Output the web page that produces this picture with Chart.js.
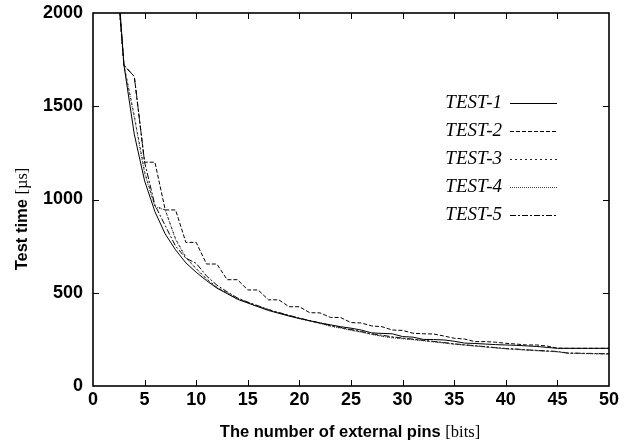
<!DOCTYPE html>
<html>
<head>
<meta charset="utf-8">
<script src="https://cdn.jsdelivr.net/npm/chart.js@4"></script>
<style>
html,body{margin:0;padding:0;background:#fff;}
#wrap{width:634px;height:447px;}
</style>
</head>
<body>
<div id="wrap"><canvas id="c" width="634" height="447"></canvas></div>
<script>
const pins = [2,3,4,5,6,7,8,9,10,11,12,13,14,15,16,17,18,19,20,21,22,23,24,25,26,27,28,29,30,31,32,33,34,35,36,37,38,39,40,41,42,43,44,45,46,47,48,49,50];
const test1 = [2500,1720,1350,1100,935,815,730,660,610,565,525,495,465,445,425,405,390,375,362,350,338,328,318,310,300,285,282,280,265,262,250,249,247,240,230,228,225,222,220,218,215,212,207,202,202,202,202,202,202];
const test2 = [2400,1720,1660,1200,1200,944,944,770,770,654,654,570,570,515,515,462,462,425,425,393,392,368,367,340,338,322,318,300,298,283,280,279,268,256,252,238,238,235,229,225,220,220,214,203,202,202,202,202,202];
const test3 = [2450,1720,1450,1150,965,944,790,690,630,575,530,500,470,448,428,410,393,378,363,350,337,322,312,300,290,278,268,260,255,250,244,238,232,225,220,215,210,205,200,197,193,190,187,184,176,175,174,173,172];
const test4 = [2450,1720,1440,1140,960,944,785,688,628,573,528,498,468,446,426,408,391,376,361,348,335,320,310,298,288,276,266,258,253,248,242,236,230,224,219,214,209,204,199,196,192,189,186,183,175,174,173,172,171];
const test5 = [2400,1720,1660,1200,970,860,750,685,658,590,541,505,472,450,430,410,394,379,364,351,338,325,314,303,292,280,272,264,257,251,245,239,233,226,221,216,211,206,201,198,194,191,188,185,177,176,175,174,173];
const seriesNames = ['TEST-1','TEST-2','TEST-3','TEST-4','TEST-5'];
const xTicks = [0,5,10,15,20,25,30,35,40,45,50];
const yTicks = [0,500,1000,1500,2000];

const styles = [
  {dash: [], color: '#000', width: 1},
  {dash: [4,2], color: '#000', width: 1},
  {dash: [2,3], color: '#222', width: 1},
  {dash: [1,1], color: '#444', width: 1},
  {dash: [6,2,2,2], color: '#000', width: 1}
];
const allData = [test1,test2,test3,test4,test5];

const datasets = allData.map((arr,i)=>({
  label: seriesNames[i],
  data: arr.map((v,j)=>({x:pins[j], y:v})),
  borderColor: styles[i].color,
  borderWidth: styles[i].width,
  borderDash: styles[i].dash,
  pointRadius: 0,
  tension: 0,
  fill: false
}));

const SANS = '"Liberation Sans", Arial, sans-serif';
const SERIF = '"Liberation Serif", "Times New Roman", serif';

const framePlugin = {
  id: 'frame',
  afterDraw(chart){
    const ctx = chart.ctx;
    const a = chart.chartArea;
    const xs = chart.scales.x, ys = chart.scales.y;
    ctx.save();
    ctx.strokeStyle = '#000';
    ctx.lineWidth = 1;
    const L = 6;
    xTicks.forEach(t=>{
      const px = Math.round(xs.getPixelForValue(t))+0.5;
      if (t===xTicks[0]||t===xTicks[xTicks.length-1]) return;
      ctx.beginPath();
      ctx.moveTo(px,a.bottom); ctx.lineTo(px,a.bottom-L);
      ctx.moveTo(px,a.top); ctx.lineTo(px,a.top+L);
      ctx.stroke();
    });
    yTicks.forEach(t=>{
      const py = Math.round(ys.getPixelForValue(t))+0.5;
      if (t===yTicks[0]||t===yTicks[yTicks.length-1]) return;
      ctx.beginPath();
      ctx.moveTo(a.left,py); ctx.lineTo(a.left+L,py);
      ctx.moveTo(a.right,py); ctx.lineTo(a.right-L,py);
      ctx.stroke();
    });
    ctx.lineWidth = 1.6;
    ctx.strokeRect(a.left, a.top, a.right-a.left, a.bottom-a.top);

    // legend
    const lx = 502, sx0 = 510, sx1 = 557;
    const rows = [103,131,159,187,215];
    ctx.font = 'italic 19px ' + SERIF;
    ctx.fillStyle = '#000';
    ctx.textAlign = 'right';
    ctx.textBaseline = 'middle';
    seriesNames.forEach((n,i)=>{
      ctx.fillText(n, lx, rows[i]);
      ctx.save();
      ctx.strokeStyle = styles[i].color;
      ctx.lineWidth = styles[i].width;
      ctx.setLineDash(styles[i].dash);
      ctx.beginPath();
      ctx.moveTo(sx0, rows[i]+0.5); ctx.lineTo(sx1, rows[i]+0.5);
      ctx.stroke();
      ctx.restore();
    });

    // axis titles with mixed fonts
    const drawMixed = (parts, cx, cy) => {
      let total = 0;
      parts.forEach(p=>{ ctx.font = p.font; p.w = ctx.measureText(p.text).width; total += p.w; });
      let x = cx - total/2;
      ctx.textAlign = 'left';
      ctx.textBaseline = 'alphabetic';
      parts.forEach(p=>{ ctx.font = p.font; ctx.fillText(p.text, x, cy); x += p.w; });
    };
    drawMixed([
      {text:'The number of external pins ', font:'bold 16.5px '+SANS},
      {text:'[bits]', font:'16.5px '+SERIF}
    ], 350, 437);
    ctx.save();
    ctx.translate(27, 219);
    ctx.rotate(-Math.PI/2);
    drawMixed([
      {text:'Test time ', font:'bold 16.5px '+SANS},
      {text:'[µs]', font:'16.5px '+SERIF}
    ], 0, 0);
    ctx.restore();
    ctx.restore();
  }
};

new Chart(document.getElementById('c'), {
  type: 'line',
  data: { datasets },
  options: {
    responsive: false,
    animation: false,
    layout: { padding: { left: 0, right: 25, top: 13, bottom: 0 } },
    plugins: { legend: { display: false }, tooltip: { enabled: false } },
    scales: {
      x: {
        type: 'linear', min: 0, max: 50,
        afterBuildTicks: s => { s.ticks = xTicks.map(v=>({value:v})); },
        afterFit: s => { s.height = 61; s.paddingLeft = 0; s.paddingRight = 0; },
        grid: { display: false, drawTicks: false },
        border: { display: false },
        ticks: { color:'#000', font:{family:SANS, size:18, weight:'bold'}, padding: 3, maxRotation:0, callback: v => String(v) }
      },
      y: {
        type: 'linear', min: 0, max: 2000,
        afterBuildTicks: s => { s.ticks = yTicks.map(v=>({value:v})); },
        afterFit: s => { s.width = 93; s.paddingTop = 0; s.paddingBottom = 0; },
        grid: { display: false, drawTicks: false },
        border: { display: false },
        ticks: { color:'#000', font:{family:SANS, size:18, weight:'bold'}, padding: 10, callback: v => String(v) }
      }
    }
  },
  plugins: [framePlugin]
});
</script>
</body>
</html>
